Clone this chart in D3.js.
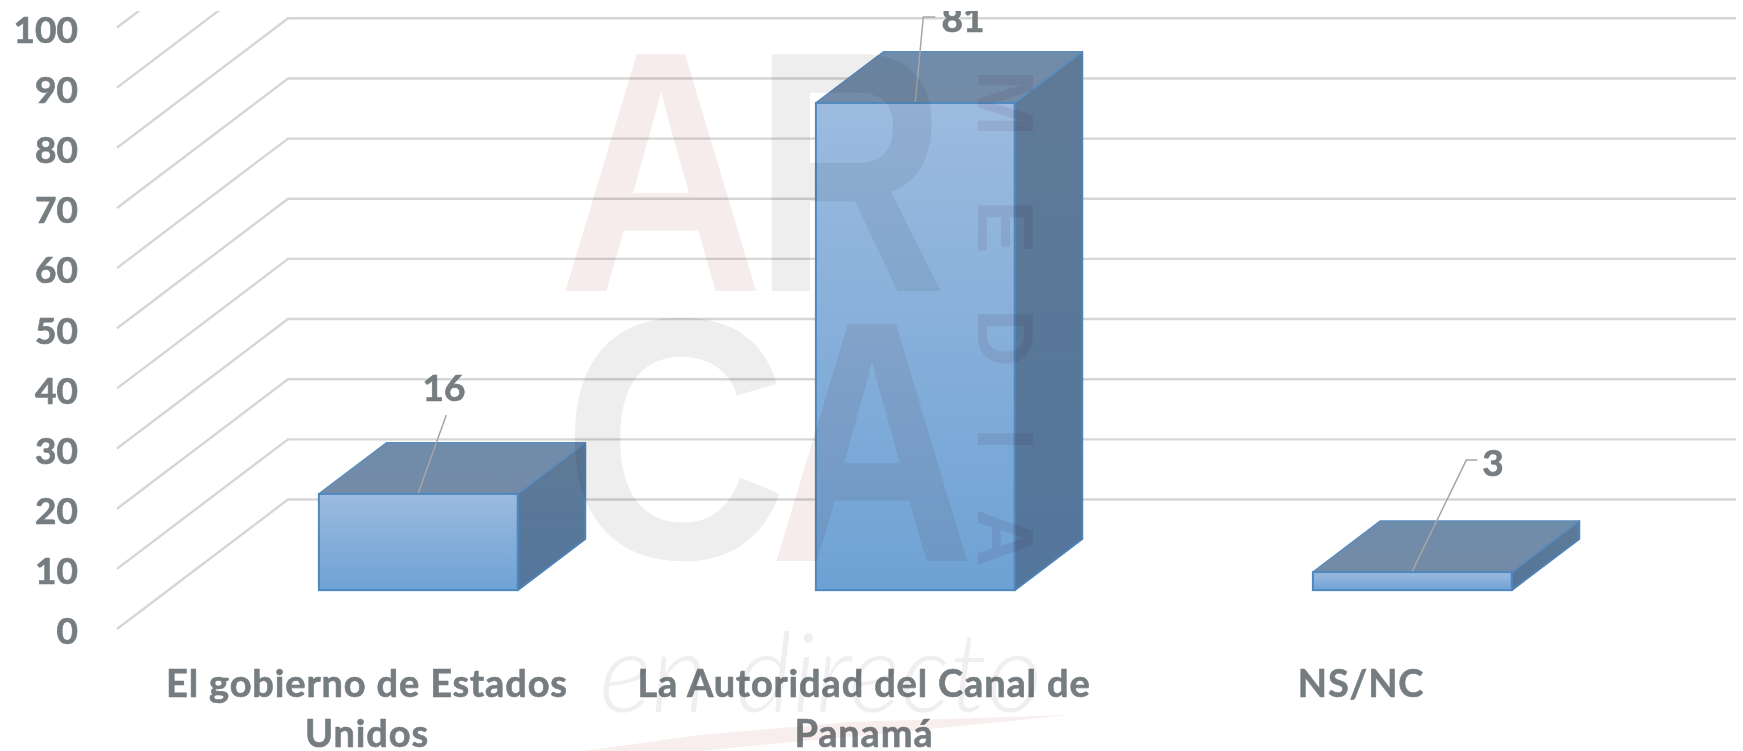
<!DOCTYPE html>
<html><head><meta charset="utf-8">
<script src="https://cdn.jsdelivr.net/npm/d3@7"></script>
<style>html,body{margin:0;padding:0;background:#fff;overflow:hidden}svg{display:block;filter:blur(0.55px)}</style>
</head><body><svg id="c" width="1743" height="751"></svg>
<script>
const categories = [["El gobierno de Estados","Unidos"],["La Autoridad del Canal de","Panamá"],["NS/NC"]];
const values = [16,81,3];
const yTicks = [0,10,20,30,40,50,60,70,80,90,100];
const gridValues = [0,10,20,30,40,50,60,70,80,90,100];
const labelDx = [28,8,54];
const labelDy = [-78,-85,-111];
const elbow = [0,12,11];
const textColor = "#767d81";
const fontFam = "Lato, 'Noto Sans', sans-serif";

const W=1743,H=751;
const svg=d3.select("#c");
const y=d3.scaleLinear().domain([0,100]).range([629,27.5]);
const x=d3.scaleBand().domain(d3.range(3)).range([118.5,1609.5]).paddingInner(0.6).paddingOuter(0.3);
const depthX=171, depthY=129.5, dFront=0.30, dBack=0.695;
const rightEnd=1736;

const defs=svg.append("defs");
defs.append("clipPath").attr("id","top").append("rect").attr("x",0).attr("y",11).attr("width",W).attr("height",H-11);
function grad(id,stops){const g=defs.append("linearGradient").attr("id",id).attr("x1",0).attr("y1",0).attr("x2",0).attr("y2",1);
 stops.forEach(s=>g.append("stop").attr("offset",s[0]).attr("stop-color",s[1]));}
grad("front",[[0,"#9cbbdf"],[1,"#6ea2d4"]]);
grad("side",[[0,"#5f7a97"],[1,"#53769b"]]);
grad("topf",[[0,"#6f8cab"],[1,"#748ba6"]]);

const root=svg.append("g").attr("clip-path","url(#top)");
const grid=root.append("g").attr("fill","none").attr("stroke","#d6d6d6").attr("stroke-width",2.4);
grid.selectAll("path").data(gridValues).join("path")
 .attr("d",v=>d3.line()([[x.range()[0]-1.5,y(v)],[x.range()[0]-1.5+depthX,y(v)-depthY],[rightEnd,y(v)-depthY]]));

const bars=root.append("g").selectAll("g").data(values).join("g");
const fx=i=>x(i)+depthX*dFront, fy=v=>y(v)-depthY*dFront;
const ddx=depthX*(dBack-dFront), ddy=depthY*(dBack-dFront);
bars.append("path").attr("fill","url(#side)").attr("stroke","#4f82b5").attr("stroke-width",2).attr("stroke-linejoin","round")
 .attr("d",(v,i)=>{const r=fx(i)+x.bandwidth();return d3.line()([[r,fy(v)],[r+ddx,fy(v)-ddy],[r+ddx,fy(0)-ddy],[r,fy(0)]])+"Z"});
bars.append("path").attr("fill","url(#topf)").attr("stroke","#5c8cbc").attr("stroke-width",1.5).attr("stroke-linejoin","round")
 .attr("d",(v,i)=>{const l=fx(i),r=l+x.bandwidth();return d3.line()([[l,fy(v)],[l+ddx,fy(v)-ddy],[r+ddx,fy(v)-ddy],[r,fy(v)]])+"Z"});
bars.append("rect").attr("fill","url(#front)").attr("stroke","#4f88bf").attr("stroke-width",2)
 .attr("x",(v,i)=>fx(i)).attr("y",v=>fy(v)).attr("width",x.bandwidth()).attr("height",v=>fy(0)-fy(v));

const lead=root.append("g").attr("fill","none").attr("stroke","#a6a6a6").attr("stroke-width",1.5);
lead.selectAll("path").data(values).join("path")
 .attr("d",(v,i)=>{const a=[fx(i)+x.bandwidth()/2,fy(v)-1],b=[a[0]+labelDx[i],a[1]+labelDy[i]];
   return d3.line()(elbow[i]?[a,b,[b[0]+elbow[i],b[1]]]:[a,b]);});

const dlX=[444,963,1493], dlBase=[401,32,476];
root.append("g").selectAll("text").data(values).join("text")
 .attr("x",(v,i)=>dlX[i]).attr("y",(v,i)=>dlBase[i]).attr("text-anchor","middle")
 .attr("fill",textColor).attr("stroke",textColor).attr("stroke-width",0.7).attr("font-family",fontFam).attr("font-weight",700).attr("font-size",37).text(v=>v);

const ax=svg.append("g").attr("transform","translate(78,3)")
 .call(d3.axisLeft(y).tickValues(yTicks).tickSize(0).tickPadding(0));
ax.select(".domain").remove();
ax.selectAll("text").attr("fill",textColor).attr("stroke",textColor).attr("stroke-width",0.7).attr("font-family",fontFam).attr("font-weight",700).attr("font-size",37);

const cat=svg.append("g").selectAll("text").data(categories).join("text")
 .attr("fill",textColor).attr("stroke",textColor).attr("stroke-width",0.6).attr("font-family",fontFam).attr("font-weight",700).attr("font-size",38).attr("letter-spacing",0.85).attr("text-anchor","middle");
cat.each(function(lines,i){d3.select(this).selectAll("tspan").data(lines).join("tspan")
 .attr("x",x(i)+x.bandwidth()/2).attr("y",(d,k)=>697+k*50).text(d=>d);});

const wm=svg.append("g").attr("pointer-events","none").style("mix-blend-mode","multiply");
const pink="#f6ecec", grey="#eeeeee", wf="'Liberation Sans', sans-serif";
const big=[["A",661,291,pink,0.826],["R",850,291,grey,0.774],["C",675,558,grey,0.91],["A",872,561,pink,0.826]];
wm.selectAll("text.big").data(big).join("text").attr("class","big")
 .attr("transform",d=>`translate(${d[1]},${d[2]}) scale(${d[4]},1)`).attr("text-anchor","middle").attr("fill",d=>d[3])
 .attr("font-family",wf).attr("font-weight",700).attr("font-size",344).text(d=>d[0]);
const media=[["M",103],["E",227],["D",338],["I",439],["A",538]];
wm.selectAll("text.m").data(media).join("text").attr("class","m")
 .attr("transform",d=>`translate(978,${d[1]}) rotate(90)`).attr("text-anchor","middle").attr("fill","#f3eaed")
 .attr("font-family",wf).attr("font-weight",700).attr("font-size",80).text(d=>d[0]);
wm.append("text").attr("x",821).attr("y",712).attr("text-anchor","middle").attr("fill","#f0eeee")
 .attr("font-family",fontFam).attr("font-style","italic").attr("font-weight",300).attr("font-size",110).text("en directo");
wm.append("path").attr("fill","#f9eeee").attr("d",d3.line()([[583,751],[700,735],[850,722],[1070,715],[900,732],[760,745],[700,751]])+"Z");
</script></body></html>
